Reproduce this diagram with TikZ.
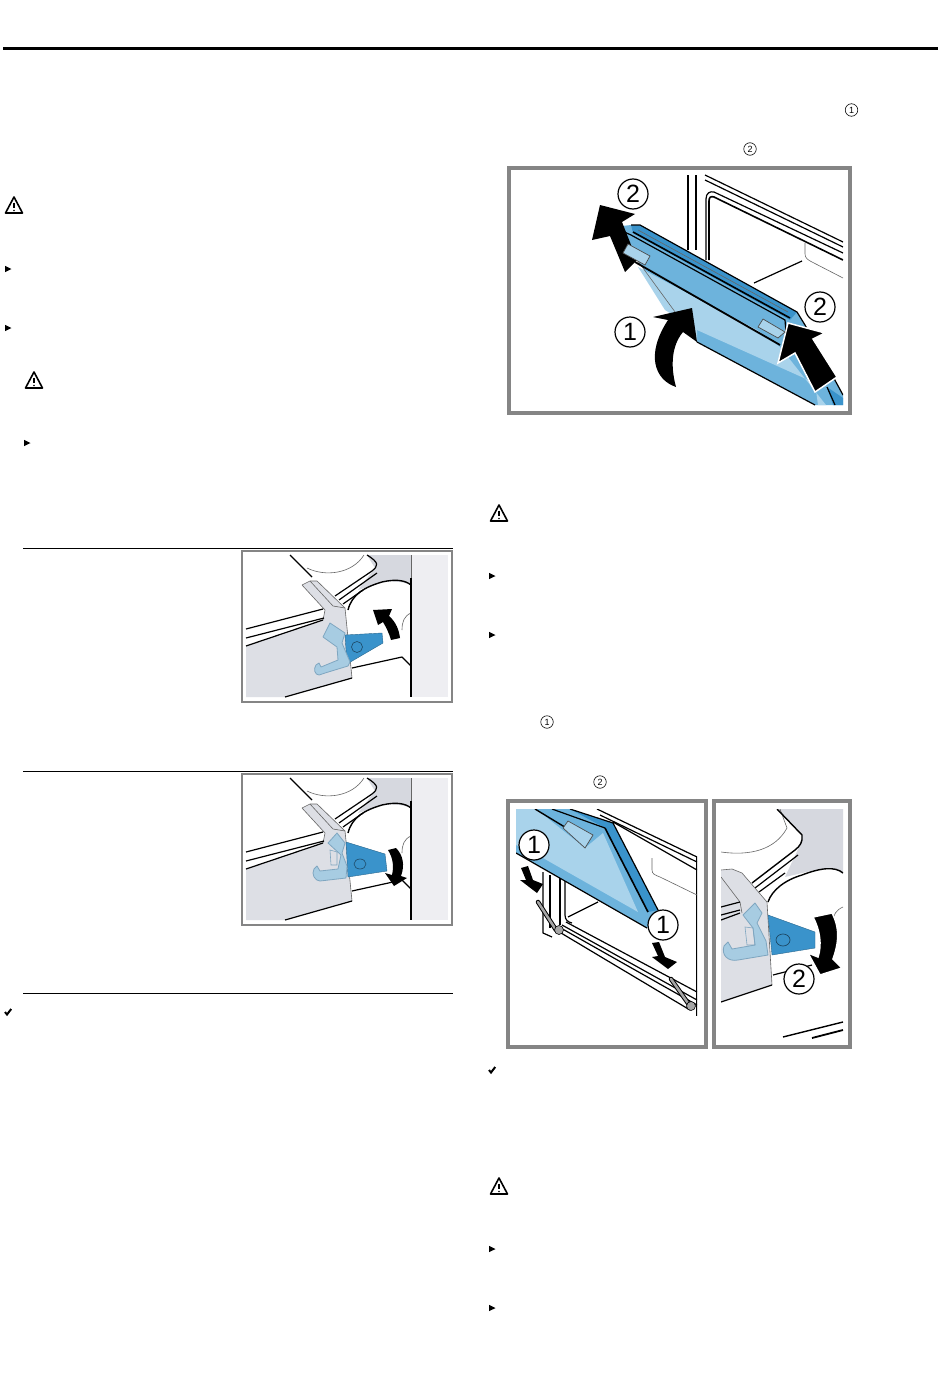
\documentclass[tikz,border=0pt]{standalone}
\usepackage{fontspec}
\setmainfont{Liberation Sans}
\definecolor{framegray}{HTML}{858585}
\definecolor{panelgray}{HTML}{D6D8DF}
\definecolor{palegray}{HTML}{EEEEF2}
\definecolor{doorgray}{HTML}{DDDFE5}
\definecolor{doorblue}{HTML}{6DB3DC}
\definecolor{glassblue}{HTML}{A9D3EB}
\definecolor{leverblue}{HTML}{3A93CB}
\definecolor{hookblue}{HTML}{A7CCE2}
\definecolor{hookline}{HTML}{7FA6C0}
\tikzset{
	figframe/.style={draw=framegray, line width=3.3pt},
	latchframe/.style={draw=framegray, line width=2pt},
	oven/.style={line width=1.2pt, line join=round},
	thinoven/.style={line width=0.6pt, draw=black!60},
	bigarrow/.style={fill=black, draw=none},
	haloarrow/.style={fill=black, draw=white, line width=1.5pt, line join=miter},
	callout/.style={circle, draw=black, fill=white, line width=1.2pt, minimum size=30pt, inner sep=0pt, font=\fontsize{25}{25}\selectfont},
	smallnum/.style={circle, draw=black, line width=0.6pt, minimum size=12.5pt, inner sep=0pt, font=\fontsize{9}{9}\selectfont},
	hook/.style={fill=hookblue, draw=hookline, line width=0.8pt, line join=round},
	warnsign/.pic={
		\draw[line width=1.6pt, line join=round] (0,-8) -- (8.5,8) -- (-8.5,8) -- cycle;
		\draw[line width=1.4pt] (0,-2.5) -- (0,3);
		\fill (0,5.5) circle (0.9);
	},
	bulletarrow/.pic={\fill (-3,-3.2) -- (3.5,0) -- (-3,3.2) -- cycle;},
	checkmark/.pic={\draw[line width=2pt] (-3,0) -- (-1,2.5) -- (3.2,-3);},
	% the part shared by both small latch pictures
	latchbase/.pic={
		\draw[latchframe] (241.7,550.7) rectangle (452,701.7);
		\fill[palegray] (411,555) rectangle (448,697);
		\fill[panelgray] (367,555) -- (411,555) -- (411,585) .. controls (402,581) and (390,581) .. (382,582) -- (358,590) -- (375,568) -- cycle;
		\draw[thinoven] (307,568) .. controls (325,577) and (352,574) .. (364,555);
		\draw[oven] (290,555) -- (312,577);
		\draw[oven] (367,555) .. controls (380,563) and (378,566) .. (372,571) -- (335,596);
		\draw[oven] (339,600) -- (377,573);
		\draw[oven] (343,604) -- (363,590);
		\draw[oven, line width=1.4pt] (348,610) .. controls (352,594) and (365,587) .. (382,582) .. controls (395,579) and (405,580) .. (411,585);
		\draw[thinoven] (411,613) .. controls (404,616) and (402,622) .. (402,630);
		\draw[oven] (352,668) -- (402,657) -- (411,666);
		\draw[line width=1.2pt] (411,578) -- (411,697);
		\draw[thinoven] (411,555) -- (411,578);
		\fill[doorgray] (302,585) -- (310,581) -- (317,581) -- (345,608) -- (352,678) -- (285,697) -- (246,697) -- (246,646) -- (323,620) -- (325,610) -- cycle;
		\draw[thinoven] (302,585) -- (310,581) -- (317,581) -- (345,608) -- (352,678);
		\draw[oven] (352,678) -- (285,697);
		\draw[thinoven] (302,585) -- (325,610) -- (323,620);
		\draw[thinoven] (310,581) -- (333,606) -- (345,608);
		\draw[oven] (246,629) -- (323,609);
		\draw[oven] (246,638) -- (324,618);
		\draw[oven] (246,646) -- (323,620);
	}
}
\begin{document}
\begin{tikzpicture}[x=1pt, y=-1pt]
	\useasboundingbox (0,0) rectangle (950,1378);
	\fill[white] (0,0) rectangle (950,1378);
	% page rules
	\draw[line width=3pt] (3,49) -- (938,49);
	\foreach \ruley in {548,771,993}
		\draw[line width=0.8pt] (23,\ruley) -- (453,\ruley);
	% margin signs
	\foreach \px/\py in {14/205,34/380,499/513,499/1186}
		\pic at (\px,\py) {warnsign};
	\foreach \px/\py in {8/269,8/328,27/443,492/576,492/635,492/1249,492/1308}
		\pic at (\px,\py) {bulletarrow};
	\foreach \px/\py in {8/1012,492/1070}
		\pic at (\px,\py) {checkmark};
	\node[smallnum] (stepa) at (851.5,110) {1};
	\node[smallnum] (stepb) at (750,149) {2};
	\node[smallnum] (stepc) at (547,722) {1};
	\node[smallnum] (stepd) at (600,782) {2};

	% door lifted off
	\draw[figframe] (509,168) rectangle (850,413);
	\begin{scope}
		\clip (514,173) rectangle (843,405);
		\draw[oven] (688,175) -- (688,250);
		\draw[oven] (696,175) -- (696,250);
		\draw[oven] (705,175) -- (843,242);
		\draw[oven] (705,180) -- (843,247);
		\draw[oven] (706,260) -- (706,199) .. controls (706,193) and (710,191) .. (714,192) -- (843,253);
		\draw[oven, line width=1.6pt] (709,260) -- (709,201) .. controls (709,197) and (711,196) .. (714,197) -- (843,260);
		\draw[thinoven] (805,243) -- (805,254) .. controls (805,258) and (808,260) .. (812,262) -- (843,278);
		\draw[oven] (802,261) -- (754,283);
		\fill[doorblue] (613,227) -- (631,225) -- (640,225) -- (797,312) -- (805,325) -- (843,395) -- (843,405) -- (815,405) -- (697,342) -- cycle;
		\fill[glassblue] (638,267) -- (757,330) -- (780,347) -- (826,405) -- (818,405) -- (815,383) -- (697,330) -- (665,310) -- cycle;
		\fill[glassblue] (638,267) -- (697,342) -- (697,330) -- cycle;
		\fill[leverblue] (631,225) -- (640,225) -- (797,312) -- (790,320) -- (633,233) -- cycle;
		\fill[leverblue] (827,387) -- (843,398) -- (843,405) -- (833,405) -- cycle;
		\draw[thinoven] (613,227) -- (697,342);
		\draw[oven] (697,342) -- (815,405);
		\draw[oven] (827,387) -- (835,405);
		\draw[oven] (613,227) -- (631,235) -- (785,320) -- (787,345);
		\draw[oven] (631,225) -- (640,225) -- (797,312) -- (805,325) -- (843,395);
		\draw[oven, line width=1.8pt] (635,262) -- (780,345);
		\draw[oven, line width=1.6pt] (633,232) -- (790,318);
		\draw[thinoven] (638,230) -- (788,312);
		\path[bigarrow] (600,205) -- (635,214) -- (622,222) -- (637,260) -- (625,272) -- (610,236) -- (592,240) -- cycle;
		\path[haloarrow] (788,323) -- (825,333) -- (813,339) -- (837,377) -- (815,392) -- (795,353) -- (778,363) -- cycle;
		\path[bigarrow] (692,308) -- (697,342) -- (683,332) .. controls (672,345) and (670,365) .. (676,387) .. controls (655,380) and (645,355) .. (668,320) -- (653,317) -- cycle;
		\fill[glassblue, draw=black!70, line width=0.7pt] (623,253) -- (628,244) -- (650,256) -- (645,265) -- cycle;
		\fill[glassblue, draw=black!70, line width=0.7pt] (758,327) -- (763,319) -- (785,332) -- (778,338) -- cycle;
	\end{scope}
	\node[callout] (doorb) at (633,194) {2};
	\node[callout] (doora) at (630,332) {1};
	\node[callout] (doorc) at (820,307) {2};

	% latch open
	\pic at (0,0) {latchbase};
	\fill[leverblue, draw=leverblue!70!black, line width=0.4pt] (345,635) -- (382,633) -- (383,643) -- (347,664) -- cycle;
	\draw[leverblue!50!black, line width=0.6pt] (357,647) ellipse (5.5 and 5.5);
	\draw[hook] (323,637) -- (330,623) -- (345,633) -- (342,643) -- (350,662) -- (348,666) -- (325,673) -- (319,675) .. controls (315,675) and (313,669) .. (316,665) -- (319,663) -- (321,667) -- (338,660) -- (337,647) -- cycle;
	\path[bigarrow] (373,610) -- (392,609) -- (389,616) .. controls (396,622) and (399,630) .. (400,638) -- (391,640) .. controls (389,633) and (386,627) .. (383,622) -- (378,625) -- cycle;

	% latch closed
	\pic at (0,223) {latchbase};
	\fill[leverblue, draw=leverblue!70!black, line width=0.4pt] (346,842) -- (385,854) -- (387,871) -- (348,877) -- cycle;
	\draw[leverblue!50!black, line width=0.6pt] (360,864) ellipse (6 and 5);
	\draw[hook] (328,843) -- (337,833) -- (345,843) -- (342,853) -- (347,866) -- (346,878) -- (320,881) .. controls (315,881) and (311,874) .. (314,869) -- (317,866) -- (320,871) -- (338,869) -- (341,855) -- cycle;
	\draw[hookline, line width=0.6pt] (330,850) -- (337,852) -- (337,865) -- (331,865) -- cycle;
	\path[bigarrow] (388,850) -- (396,848) .. controls (403,855) and (405,865) .. (401,876) -- (407,878) -- (394,886) -- (385,873) -- (392,875) .. controls (394,866) and (393,858) .. (388,850) -- cycle;

	% door put back
	\draw[figframe] (508,801) rectangle (706,1047);
	\begin{scope}
		\clip (516,809) rectangle (697,1038);
		\draw[oven] (597,809) -- (697,857);
		\draw[oven] (600,815) -- (697,862);
		\draw[oven] (613,822) -- (697,870);
		\draw[oven] (697,857) -- (697,1016);
		\draw[thinoven] (652,858) -- (652,870) .. controls (652,874) and (655,875) .. (660,877) -- (697,895);
		\draw[oven] (598,902) -- (568,917);
		\draw[oven] (565,877) -- (565,915) .. controls (565,920) and (568,922) .. (572,923);
		\draw[oven] (560,875) -- (560,925);
		\draw[oven] (543,872) -- (543,933) -- (552,937);
		\draw[oven] (550,875) -- (550,928);
		\draw[oven] (556,930) -- (690,1010);
		\draw[oven] (559,927) -- (697,1005);
		\draw[oven] (562,925) -- (697,1000);
		\draw[oven] (566,922) -- (697,992);
		\draw[black, line width=4.5pt, line cap=round] (538,902) -- (556,930);
		\draw[black!35, line width=2.5pt, line cap=round] (538,902) -- (556,930);
		\draw[black, line width=4.5pt, line cap=round] (671,979) -- (690,1006);
		\draw[black!35, line width=2.5pt, line cap=round] (671,979) -- (690,1006);
		\fill[black!35, draw=black, line width=0.6pt] (559,930) circle (4.5);
		\fill[black!35, draw=black, line width=0.6pt] (691,1006) circle (4.5);
		\fill[doorblue] (516,809) -- (570,809) -- (613,825) -- (658,910) -- (647,928) -- (516,853) -- cycle;
		\fill[glassblue] (516,809) -- (536,809) -- (585,848) -- (603,833) -- (638,912) -- (543,858) -- (516,845) -- cycle;
		\fill[leverblue] (570,809) -- (613,823) -- (658,910) -- (648,912) -- (605,828) -- cycle;
		\draw[oven] (570,809) -- (613,823) -- (658,910);
		\draw[oven, line width=1.6pt] (605,828) -- (648,912);
		\draw[oven] (552,809) -- (605,828);
		\draw[oven] (516,853) -- (647,928);
		\draw[oven, line width=1.4pt] (535,809) -- (568,829);
		\fill[glassblue, draw=black!70, line width=0.7pt] (563,828) -- (568,821) -- (593,835) -- (585,848) -- cycle;
		\path[bigarrow] (521,868) -- (528,866) -- (533,880) -- (543,884) -- (537,893) -- (520,880) -- (526,880) -- cycle;
		\path[bigarrow] (652,943) -- (659,942) -- (665,957) -- (677,962) -- (668,969) -- (652,957) -- (658,956) -- cycle;
	\end{scope}
	\node[callout] (backa) at (534,845) {1};
	\node[callout] (backb) at (663,925) {1};

	% latch closed, enlarged
	\draw[figframe] (714,801) rectangle (850,1047);
	\begin{scope}
		\clip (721,809) rectangle (843,1038);
		\fill[panelgray] (777,809) -- (843,809) -- (843,873) .. controls (835,868) and (825,868) .. (815,870) -- (785,877) -- (800,845) -- (802,835) -- cycle;
		\draw[thinoven] (721,852) .. controls (750,856) and (775,850) .. (787,828) -- (780,809);
		\draw[oven, line width=1.4pt] (777,809) -- (802,835) .. controls (803,842) and (800,846) .. (795,850) -- (752,883);
		\draw[oven] (755,888) -- (798,855);
		\draw[oven] (759,892) -- (785,873);
		\draw[oven, line width=1.4pt] (768,902) .. controls (772,890) and (785,880) .. (802,875) .. controls (820,868) and (835,866) .. (843,873);
		\draw[thinoven] (843,907) .. controls (836,910) and (833,915) .. (833,922);
		\draw[oven] (773,975) -- (812,965);
		\draw[oven, line width=1.4pt] (783,1037) -- (843,1022);
		\draw[oven, line width=1.8pt] (812,1038) -- (843,1030);
		\fill[doorgray] (721,870) -- (732,869) -- (742,873) -- (767,902) -- (772,985) -- (721,1002) -- cycle;
		\draw[thinoven] (721,870) -- (732,869) -- (742,873) -- (767,902) -- (772,985);
		\draw[oven] (772,985) -- (721,1002);
		\draw[thinoven] (721,877) -- (740,902) -- (742,913);
		\draw[oven] (721,907) -- (740,902);
		\draw[oven] (721,915) -- (740,910);
		\draw[oven] (721,920) -- (740,913);
		\fill[leverblue, draw=leverblue!70!black, line width=0.4pt] (768,915) -- (815,932) -- (815,948) -- (772,955) -- cycle;
		\draw[leverblue!50!black, line width=0.7pt] (783,940) ellipse (7 and 6);
		\draw[hook] (743,915) -- (755,903) -- (762,913) -- (757,923) -- (766,941) -- (768,955) -- (738,960) .. controls (728,962) and (721,955) .. (724,946) -- (728,942) -- (732,949) -- (755,945) -- (753,928) -- cycle;
		\draw[hookline, line width=0.6pt] (745,927) -- (753,928) -- (755,945) -- (747,945) -- cycle;
		\path[haloarrow] (813,917) -- (832,913) .. controls (840,928) and (839,942) .. (833,959) -- (842,968) -- (820,975) -- (808,953) -- (818,957) .. controls (822,945) and (820,930) .. (813,917) -- cycle;
	\end{scope}
	\node[callout] (sidea) at (799,979) {2};
\end{tikzpicture}
\end{document}
